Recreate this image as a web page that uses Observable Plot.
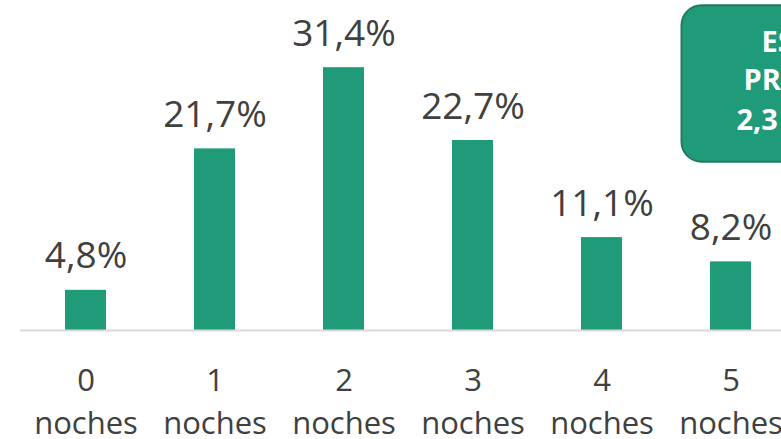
<!DOCTYPE html>
<html>
<head>
<meta charset="utf-8">
<script src="https://cdn.jsdelivr.net/npm/d3@7"></script>
<script src="https://cdn.jsdelivr.net/npm/@observablehq/plot@0.6"></script>
<style>
  html, body { margin: 0; padding: 0; background: #ffffff; overflow: hidden; }
  #chart { width: 781px; height: 439px; }
</style>
</head>
<body>
<div id="chart"></div>
<script>
const nights = ["0", "1", "2", "3", "4", "5"];
const tickLines = ["noches", "noches", "noches", "noches", "noches", "noches"];
const shares = [4.8, 21.7, 31.4, 22.7, 11.1, 8.2];
const shareLabels = ["4,8%", "21,7%", "31,4%", "22,7%", "11,1%", "8,2%"];
const boxLines = ["ESTANCIA", "PROMEDIO", "2,3 NOCHES"];

const data = nights.map((n, i) => ({cat: n + "\n" + tickLines[i], value: shares[i], label: shareLabels[i]}));
const cats = data.map(d => d.cat);

const green = "#1f9b79";
const grey = "#404040";

const chart = Plot.plot({
  width: 781,
  height: 439,
  marginLeft: 20,
  marginRight: 0,
  marginTop: 0,
  marginBottom: 0,
  style: {fontFamily: "'Open Sans', sans-serif", background: "transparent", overflow: "visible"},
  x: {domain: cats, range: [19.7, 797.3], paddingInner: 0.68, paddingOuter: 0.34, align: 0.5, axis: null},
  y: {domain: [0, 40], range: [330, -4.8], axis: null},
  marks: [
    Plot.barY(data, {x: "cat", y: "value", fill: green}),
    Plot.ruleY([0], {stroke: "#d9d9d9", strokeWidth: 2}),
    Plot.text(data, {x: "cat", y: "value", text: "label", lineAnchor: "bottom", dy: -22, fontSize: 37, fill: grey}),
    Plot.text(data, {x: "cat", y: 0, text: "cat", lineAnchor: "top", dy: 30, fontSize: 31, lineHeight: 1.39, fill: grey})
  ]
});

document.getElementById("chart").appendChild(chart);

// Annotation box anchored through the plot's scales
const svg = d3.select(chart);
const xs = chart.scale("x");
const ys = chart.scale("y");
const lastCenter = xs.apply(cats[cats.length - 1]) + xs.bandwidth / 2;
const boxLeft = lastCenter - 49;
const boxTop = ys.apply(38.8);
const boxBottom = ys.apply(20.1);
const g = svg.append("g").attr("text-anchor", "start");
g.append("rect")
  .attr("x", boxLeft).attr("y", boxTop)
  .attr("width", 200).attr("height", boxBottom - boxTop)
  .attr("rx", 20).attr("ry", 20)
  .attr("fill", green).attr("stroke", "#237a5f").attr("stroke-width", 2);
const starts = [80, 62, 55];
const baselines = [52, 90, 130];
g.selectAll("text.box").data(boxLines).join("text")
  .attr("class", "box")
  .attr("x", (d, i) => boxLeft + starts[i])
  .attr("y", (d, i) => baselines[i])
  .attr("text-anchor", "start")
  .attr("fill", "#ffffff")
  .attr("font-family", "'Open Sans', sans-serif")
  .attr("font-weight", "bold")
  .attr("font-size", 29)
  .text(d => d);
</script>
</body>
</html>
